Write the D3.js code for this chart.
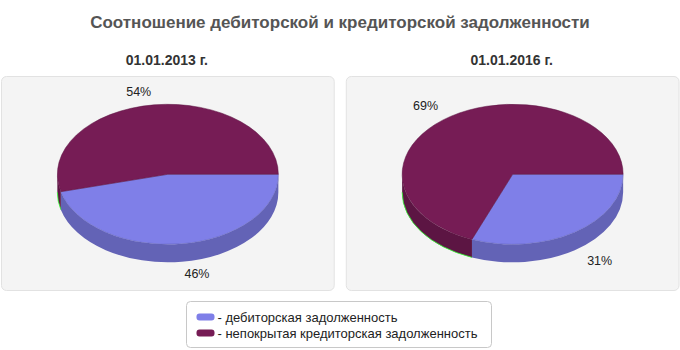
<!DOCTYPE html>
<html>
<head>
<meta charset="utf-8">
<script src="https://cdn.jsdelivr.net/npm/d3@7"></script>
<style>
  body { margin: 0; background: #fff; }
  svg { display: block; font-family: "Liberation Sans", Arial, sans-serif; }
</style>
</head>
<body>
<div id="chart"></div>
<script>
// Соотношение дебиторской и кредиторской задолженности — two 3D pies
const title = 'Соотношение дебиторской и кредиторской задолженности'
const categories = ['дебиторская задолженность', 'непокрытая кредиторская задолженность']
const dates = ['01.01.2013 г.', '01.01.2016 г.']
const values2013 = [46, 54]
const values2016 = [31, 69]

const width = 680
const height = 350
const topColors = ['#7f7fe8', '#761c55']
const sideColors = ['#6363b6', '#5c1543']

const svg = d3.select('#chart')
  .append('svg')
  .attr('width', width)
  .attr('height', height)

svg.append('text')
  .attr('x', width / 2)
  .attr('y', 28)
  .attr('text-anchor', 'middle')
  .attr('font-size', '17px')
  .attr('font-weight', 'bold')
  .attr('fill', '#555')
  .text(title)

// panel placement
const panelX = d3.scaleBand().domain(dates).range([1.5, 679]).paddingInner(0.035)
const rx = 110.5
const ry = 70
const depth = 18
const cy = 174.3

const pie = d3.pie().sort(null)
  .startAngle(Math.PI / 2)
  .endAngle(Math.PI / 2 + 2 * Math.PI)

// point on ellipse for d3 angle (0 = 12 o'clock, clockwise)
const pt = (cx, a, dy = 0) => [cx + rx * Math.sin(a), cy - ry * Math.cos(a) + dy]

function topPath(cx, d) {
  const [x0, y0] = pt(cx, d.startAngle)
  const [x1, y1] = pt(cx, d.endAngle)
  const large = d.endAngle - d.startAngle > Math.PI ? 1 : 0
  return `M${cx},${cy}L${x0},${y0}A${rx},${ry} 0 ${large} 1 ${x1},${y1}Z`
}

// outer wall, only the front half (angles PI/2 .. 3PI/2 in d3 terms)
function sidePath(cx, d) {
  const a0 = Math.max(d.startAngle, Math.PI / 2)
  const a1 = Math.min(d.endAngle, 3 * Math.PI / 2)
  if (a1 <= a0) return null
  const [x0, y0] = pt(cx, a0)
  const [x1, y1] = pt(cx, a1)
  const [x2, y2] = pt(cx, a1, depth)
  const [x3, y3] = pt(cx, a0, depth)
  return `M${x0},${y0}A${rx},${ry} 0 0 1 ${x1},${y1}L${x2},${y2}A${rx},${ry} 0 0 0 ${x3},${y3}Z`
}

function bottomEdge(cx, d) {
  const a0 = Math.max(d.startAngle, Math.PI / 2)
  const a1 = Math.min(d.endAngle, 3 * Math.PI / 2)
  if (a1 <= a0) return null
  const [x2, y2] = pt(cx, a1, depth)
  const [x3, y3] = pt(cx, a0, depth)
  return `M${x2},${y2}A${rx},${ry} 0 0 0 ${x3},${y3}`
}

const series = [values2013, values2016]

dates.forEach((date, k) => {
  const px = panelX(date)
  const pw = panelX.bandwidth()
  const cx = px + pw / 2
  const g = svg.append('g')

  g.append('rect')
    .attr('x', px)
    .attr('y', 76.5)
    .attr('width', pw)
    .attr('height', 214)
    .attr('rx', 5)
    .attr('fill', '#f4f4f4')
    .attr('stroke', '#e2e2e2')

  svg.append('text')
    .attr('x', cx - 1)
    .attr('y', 65)
    .attr('text-anchor', 'middle')
    .attr('font-size', '14px')
    .attr('font-weight', 'bold')
    .attr('fill', '#333')
    .text(date)

  const arcs = pie(series[k])

  g.selectAll('.side')
    .data(arcs)
    .join('path')
    .attr('class', 'side')
    .attr('d', d => sidePath(cx, d))
    .attr('fill', (d, i) => sideColors[i])

  g.selectAll('.edge')
    .data(arcs.filter((d, i) => i === 1))
    .join('path')
    .attr('class', 'edge')
    .attr('d', d => bottomEdge(cx, d))
    .attr('fill', 'none')
    .attr('stroke', '#2bff2b')
    .attr('stroke-width', 0.8)

  g.selectAll('.top')
    .data(arcs)
    .join('path')
    .attr('class', 'top')
    .attr('d', d => topPath(cx, d))
    .attr('fill', (d, i) => topColors[i])
    .attr('stroke', (d, i) => sideColors[i])
    .attr('stroke-width', 0.5)

  g.selectAll('.lbl')
    .data(arcs)
    .join('text')
    .attr('class', 'lbl')
    .attr('x', d => {
      const m = (d.startAngle + d.endAngle) / 2
      return cx + rx * 1.2 * Math.sin(m)
    })
    .attr('y', d => {
      const m = (d.startAngle + d.endAngle) / 2
      return cy - ry * 1.18 * Math.cos(m) + (Math.cos(m) < 0 ? depth : 0)
    })
    .attr('text-anchor', d => Math.sin((d.startAngle + d.endAngle) / 2) > 0 ? 'start' : 'end')
    .attr('dominant-baseline', 'central')
    .attr('font-size', '12.5px')
    .attr('fill', '#222')
    .text(d => d.data + '%')
})

// legend
const legend = svg.append('g').attr('transform', 'translate(186.5,301.5)')
legend.append('rect')
  .attr('width', 305)
  .attr('height', 46)
  .attr('rx', 4)
  .attr('fill', '#fff')
  .attr('stroke', '#c8c8c8')

const item = legend.selectAll('.legend-item')
  .data(categories)
  .join('g')
  .attr('class', 'legend-item')
  .attr('transform', (d, i) => `translate(10, ${12 + i * 16})`)

item.append('rect')
  .attr('width', 18)
  .attr('height', 7)
  .attr('rx', 3)
  .attr('fill', (d, i) => topColors[i])

item.append('text')
  .attr('x', 21)
  .attr('y', 4)
  .attr('dominant-baseline', 'central')
  .attr('font-size', '13px')
  .attr('fill', '#222')
  .text(d => '- ' + d)
</script>
</body>
</html>
